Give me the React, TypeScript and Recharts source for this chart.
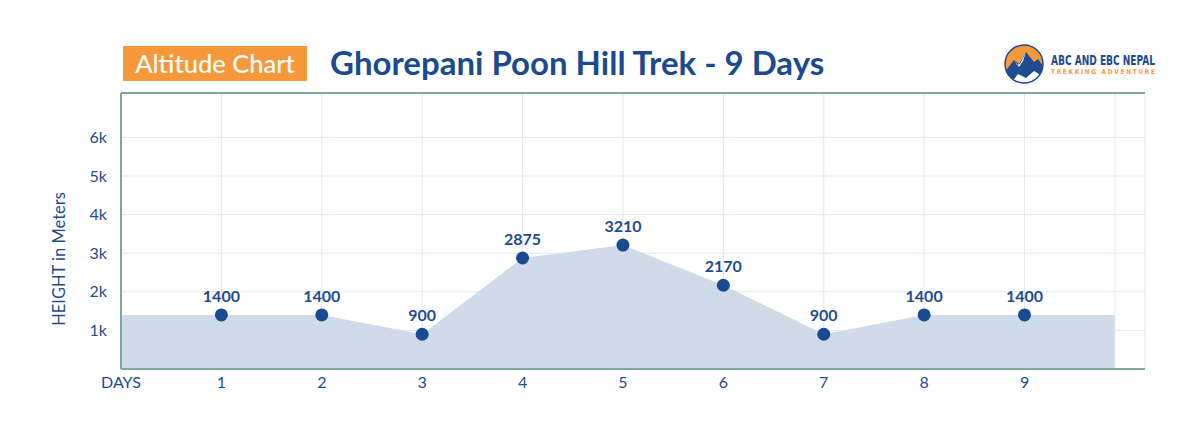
import { ComposedChart, Area, Line, XAxis, YAxis, CartesianGrid, ReferenceLine, LabelList } from 'recharts';

const days = [1, 2, 3, 4, 5, 6, 7, 8, 9];
const altitudes = [1400, 1400, 900, 2875, 3210, 2170, 900, 1400, 1400];
const xTicks = [0, 1, 2, 3, 4, 5, 6, 7, 8, 9];
const yTicks = [1000, 2000, 3000, 4000, 5000, 6000];
// shaded profile runs flat out to the frame on both sides
const areaStartDay = 0;
const areaEndDay = 9.9;

const rows = [
	{ day: areaStartDay, area: altitudes[0], alt: null as number | null },
	...days.map((d, i) => ({ day: d, area: altitudes[i], alt: altitudes[i] as number | null })),
	{ day: areaEndDay, area: altitudes[altitudes.length - 1], alt: null as number | null },
];

const BLUE = '#1d4c8f';
const FRAME = '#7fa8a1';
const FONT = "Lato, 'Open Sans', sans-serif";
const NARROW = "'DejaVu Sans Condensed', 'Liberation Sans Narrow', sans-serif";

function formatDay(v: number) {
	return v === 0 ? 'DAYS' : String(v);
}

function formatK(v: number) {
	return `${v / 1000}k`;
}

function Logo() {
	return (
		<svg style={styles.logo} width={190} height={44} viewBox="0 0 190 44">
			<defs>
				<clipPath id="lc">
					<circle cx={20} cy={21} r={19} />
				</clipPath>
			</defs>
			<g clipPath="url(#lc)">
				<rect x={0} y={0} width={40} height={44} fill="#f7993a" />
				<polygon points="0,30 10,17 15,21 22,9 30,19 34,16 40,24 40,44 0,44" fill="#1d4c8f" />
				<polygon points="10,17 13,22 16,21 22,9 19,18 15,24" fill="#ffffff" />
				<polygon points="4,44 14,31 22,35 30,28 40,34 40,44" fill="#ffffff" />
			</g>
			<circle cx={20} cy={21} r={19} fill="none" stroke="#1d4c8f" strokeWidth={1.5} />
			<text
				x={47}
				y={22}
				fill="#1d4c8f"
				fontFamily={NARROW}
				fontWeight={700}
				fontSize={14}
				textLength={104}
				lengthAdjust="spacingAndGlyphs"
			>
				ABC AND EBC NEPAL
			</text>
			<text
				x={47}
				y={31}
				fill="#f7993a"
				fontFamily={NARROW}
				fontWeight={700}
				fontSize={6.5}
				textLength={104}
				lengthAdjust="spacing"
			>
				TREKKING ADVENTURE
			</text>
		</svg>
	);
}

export default function App() {
	return (
		<div style={styles.page}>
			<div style={styles.badge}>Altitude Chart</div>
			<div style={styles.title}>Ghorepani Poon Hill Trek - 9 Days</div>
			<Logo />
			<ComposedChart width={1200} height={432} data={rows} margin={{ top: 93, right: 55, bottom: 0, left: 0 }}>
				<CartesianGrid stroke="#e1e8f0" strokeWidth={1} />
				<XAxis
					dataKey="day"
					type="number"
					domain={[0, 10.2]}
					ticks={xTicks}
					tickFormatter={formatDay}
					axisLine={{ stroke: FRAME, strokeWidth: 2 }}
					tickLine={false}
					tickSize={0}
					tickMargin={8}
					tick={{ fill: BLUE, fontSize: 16, fontFamily: FONT }}
					height={63}
				/>
				<YAxis
					type="number"
					domain={[0, 7150]}
					ticks={yTicks}
					tickFormatter={formatK}
					axisLine={{ stroke: FRAME, strokeWidth: 2 }}
					tickLine={false}
					tickSize={0}
					tickMargin={14}
					tick={{ fill: BLUE, fontSize: 16, fontFamily: FONT }}
					width={121}
					label={{
						value: 'HEIGHT in Meters',
						angle: -90,
						position: 'insideLeft',
						dx: 54,
						dy: 28,
						style: { fill: BLUE, fontSize: 16.5, fontFamily: FONT, textAnchor: 'middle' },
					}}
				/>
				<ReferenceLine x={areaEndDay} stroke="#e1e8f0" strokeWidth={1} />
				<ReferenceLine y={7150} stroke={FRAME} strokeWidth={2} ifOverflow="visible" />
				<Area
					type="linear"
					dataKey="area"
					stroke="none"
					fill="#cfdbe8"
					fillOpacity={1}
					isAnimationActive={false}
				/>
				<Line
					type="linear"
					dataKey="alt"
					stroke="none"
					dot={{ r: 6.5, fill: '#1a4a91', stroke: 'none' }}
					activeDot={false}
					isAnimationActive={false}
				>
					<LabelList
						dataKey="alt"
						position="top"
						offset={13}
						style={{ fill: BLUE, fontSize: 16, fontWeight: 700, fontFamily: FONT }}
					/>
				</Line>
			</ComposedChart>
		</div>
	);
}

const styles: Record<string, React.CSSProperties> = {
	page: {
		position: 'absolute',
		left: 0,
		top: 0,
		width: 1200,
		height: 432,
		background: '#fff',
		fontFamily: FONT,
	},
	badge: {
		position: 'absolute',
		left: 123,
		top: 46,
		width: 184,
		height: 35,
		background: '#f7993a',
		color: '#fff',
		fontSize: 25.5,
		fontWeight: 500,
		lineHeight: '35px',
		textAlign: 'center',
	},
	title: {
		position: 'absolute',
		left: 330,
		top: 42,
		color: '#1b4b8e',
		fontSize: 33,
		fontWeight: 700,
		lineHeight: '40px',
		whiteSpace: 'nowrap',
	},
	logo: {
		position: 'absolute',
		left: 1004,
		top: 43,
	},
};
